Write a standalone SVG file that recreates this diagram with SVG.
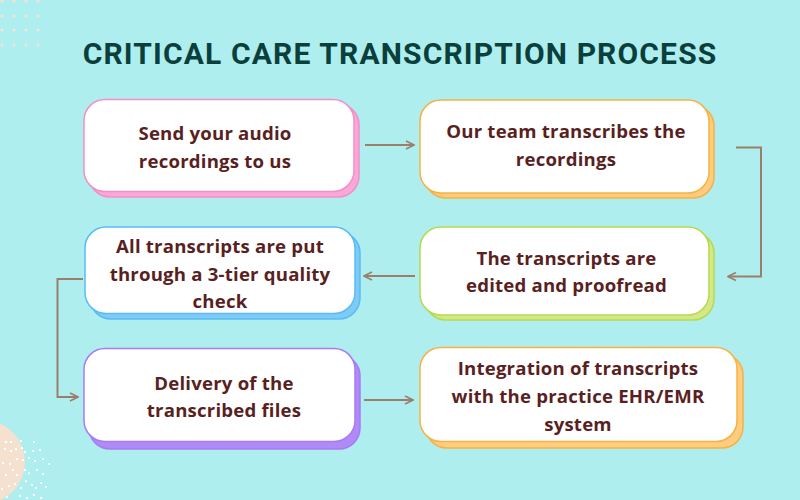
<svg xmlns="http://www.w3.org/2000/svg" width="800" height="500" viewBox="0 0 800 500">
<defs>
<style>
.t{font-family:"Open Sans",Lato,"Liberation Sans",sans-serif;font-weight:700;font-size:18.6px;letter-spacing:0.2px;fill:#5A1F1F;text-anchor:middle}
.title{font-family:Roboto,"Liberation Sans",sans-serif;font-weight:700;font-size:30px;letter-spacing:1.15px;fill:#0B3F3B;text-anchor:middle}
.box{fill:#ffffff;stroke-width:1.5}
.conn{fill:none;stroke:#9B7F6A;stroke-width:2}
.pd{fill:#F5E3D3}
.wd{fill:#ffffff}
</style>
<marker id="ah" viewBox="0 0 10 10" refX="9" refY="5" markerWidth="10" markerHeight="10" markerUnits="userSpaceOnUse" orient="auto">
<path d="M1,1 L9,5 L1,9" fill="none" stroke="#9B7F6A" stroke-width="1.6"/>
</marker>
</defs>
<rect width="800" height="500" fill="#AFEEEF"/>
<g id="deco-dots">
<circle class="pd" cx="2" cy="1" r="1.6"/><circle class="pd" cx="14" cy="1" r="1.6"/><circle class="pd" cx="26" cy="1" r="1.6"/><circle class="pd" cx="38" cy="1" r="1.6"/>
<circle class="pd" cx="2" cy="16" r="1.6"/><circle class="pd" cx="14" cy="16" r="1.6"/><circle class="pd" cx="26" cy="16" r="1.6"/><circle class="pd" cx="38" cy="16" r="1.6"/>
<circle class="pd" cx="2" cy="30" r="1.6"/><circle class="pd" cx="14" cy="30" r="1.6"/><circle class="pd" cx="26" cy="30" r="1.6"/><circle class="pd" cx="38" cy="30" r="1.6"/>
<circle class="pd" cx="2" cy="45" r="1.6"/><circle class="pd" cx="14" cy="45" r="1.6"/><circle class="pd" cx="26" cy="45" r="1.6"/><circle class="pd" cx="38" cy="45" r="1.6"/>
</g>
<g id="deco-circle">
<circle cx="-17" cy="462" r="42" fill="#F5E1D0"/>
<g class="wd">
<rect x="5" y="441" width="2" height="2"/><rect x="10" y="441" width="2" height="2"/><rect x="20" y="440" width="2" height="2"/><rect x="33" y="441" width="2" height="2"/>
<rect x="4" y="448" width="2" height="2"/><rect x="10" y="450" width="2" height="2"/><rect x="15" y="448" width="2" height="2"/><rect x="21" y="447" width="2" height="2"/><rect x="24" y="451" width="2" height="2"/><rect x="32" y="450" width="2" height="2"/><rect x="39" y="449" width="2" height="2"/>
<rect x="2" y="462" width="2" height="2"/><rect x="9" y="463" width="2" height="2"/><rect x="16" y="458" width="2" height="2"/><rect x="22" y="459" width="2" height="2"/><rect x="28" y="457" width="2" height="2"/><rect x="34" y="460" width="2" height="2"/><rect x="42" y="458" width="2" height="2"/><rect x="48" y="463" width="2" height="2"/>
<rect x="5" y="474" width="2" height="2"/><rect x="12" y="469" width="2" height="2"/><rect x="16" y="474" width="2" height="2"/><rect x="24" y="469" width="2" height="2"/><rect x="28" y="472" width="2" height="2"/><rect x="36" y="469" width="2" height="2"/><rect x="42" y="473" width="2" height="2"/>
<rect x="1" y="488" width="2" height="2"/><rect x="8" y="485" width="2" height="2"/><rect x="14" y="483" width="2" height="2"/><rect x="20" y="487" width="2" height="2"/><rect x="25" y="480" width="2" height="2"/><rect x="31" y="484" width="2" height="2"/><rect x="35" y="487" width="2" height="2"/><rect x="40" y="482" width="2" height="2"/><rect x="45" y="486" width="2" height="2"/>
<rect x="6" y="496" width="2" height="2"/><rect x="19" y="495" width="2" height="2"/><rect x="26" y="497" width="2" height="2"/><rect x="33" y="494" width="2" height="2"/><rect x="40" y="497" width="2" height="2"/>
</g>
</g>
<text class="title" x="400" y="63.5">CRITICAL CARE TRANSCRIPTION PROCESS</text>
<g id="connectors">
<path class="conn" d="M365,145 H414" marker-end="url(#ah)"/>
<path class="conn" d="M736,147.5 H761 V276.5 H728" marker-end="url(#ah)"/>
<path class="conn" d="M415,276 H364" marker-end="url(#ah)"/>
<path class="conn" d="M83,279 H57.5 V397 H78" marker-end="url(#ah)"/>
<path class="conn" d="M364,400 H413" marker-end="url(#ah)"/>
</g>
<g id="node1">
<rect x="89" y="104" width="270" height="93" rx="21" fill="#F9A8D8" stroke="#F48FC6" stroke-width="1.5"/>
<rect class="box" x="84" y="99.5" width="270" height="92" rx="21" stroke="#F48FC6"/>
<text class="t" x="215" y="140">Send your audio</text>
<text class="t" x="215" y="167.5">recordings to us</text>
</g>
<g id="node2">
<rect x="425" y="105" width="289" height="93" rx="21" fill="#FFCC80" stroke="#F6B243" stroke-width="1.5"/>
<rect class="box" x="420" y="100" width="289" height="93" rx="21" stroke="#F6B243"/>
<text class="t" x="566" y="138">Our team transcribes the</text>
<text class="t" x="566" y="165.5">recordings</text>
</g>
<g id="node3">
<rect x="425" y="232" width="289" height="88" rx="21" fill="#D4E88A" stroke="#B5DB4C" stroke-width="1.5"/>
<rect class="box" x="420" y="227" width="289" height="88" rx="21" stroke="#B5DB4C"/>
<text class="t" x="566.5" y="265">The transcripts are</text>
<text class="t" x="566.5" y="292">edited and proofread</text>
</g>
<g id="node4">
<rect x="90" y="232" width="270" height="87" rx="21" fill="#7FCBF7" stroke="#5BBCF5" stroke-width="1.5"/>
<rect class="box" x="85" y="227" width="270" height="86.5" rx="21" stroke="#5BBCF5"/>
<text class="t" x="220" y="253">All transcripts are put</text>
<text class="t" x="220" y="281">through a 3-tier quality</text>
<text class="t" x="220" y="308">check</text>
</g>
<g id="node5">
<rect x="89" y="355" width="271" height="94" rx="21" fill="#B08BF7" stroke="#A77BF5" stroke-width="1.5"/>
<rect class="box" x="84" y="348.5" width="271" height="93" rx="21" stroke="#A77BF5"/>
<text class="t" x="224" y="390">Delivery of the</text>
<text class="t" x="224" y="416.5">transcribed files</text>
</g>
<g id="node6">
<rect x="426" y="354" width="317" height="94" rx="21" fill="#FFCC80" stroke="#F6B243" stroke-width="1.5"/>
<rect class="box" x="420" y="347.5" width="317" height="94" rx="21" stroke="#F6B243"/>
<text class="t" x="578" y="375">Integration of transcripts</text>
<text class="t" x="578" y="403">with the practice EHR/EMR</text>
<text class="t" x="578" y="430.5">system</text>
</g>
</svg>
